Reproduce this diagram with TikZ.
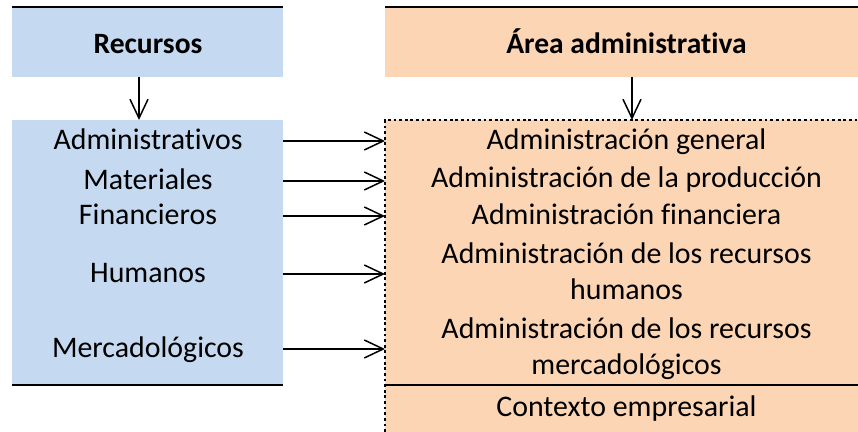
\documentclass[tikz,border=0pt]{standalone}
\usepackage{fontspec}
\setmainfont{Carlito}[Ligatures=NoCommon]
\usetikzlibrary{arrows.meta}
\definecolor{recblue}{RGB}{197,217,241}
\definecolor{areaorange}{RGB}{252,213,180}
\tikzset{
  panel/.style={inner sep=0pt, outer sep=0pt, anchor=north west},
  flow/.style={-{Straight Barb[length=0.38cm,width=0.36cm]}, line width=0.85pt},
  item/.style={font=\fontsize{17}{21}\selectfont, align=center, inner sep=0pt, anchor=base},
  title/.style={font=\fontsize{16.8}{21}\selectfont\bfseries, inner sep=0pt, anchor=base},
  rule/.style={line width=1.1pt},
  dots/.style={line width=1.6pt, dash pattern=on 1.6pt off 1.6pt}
}
\begin{document}
\begin{tikzpicture}
\useasboundingbox (0,0) rectangle (17.16,8.64);

% boxes
\node[panel, fill=recblue, minimum width=5.42cm, minimum height=1.40cm] (lhead) at (0.24,8.50) {};
\node[panel, fill=recblue, minimum width=5.42cm, minimum height=5.30cm] (lbody) at (0.24,6.24) {};
\node[panel, fill=areaorange, minimum width=9.46cm, minimum height=1.40cm] (rhead) at (7.70,8.50) {};
\node[panel, fill=areaorange, minimum width=9.46cm, minimum height=5.30cm] (rbody) at (7.70,6.24) {};
\node[panel, fill=areaorange, minimum width=9.46cm, minimum height=0.94cm] (ctx) at (7.70,0.94) {};

\draw[rule] (lhead.north west) -- (lhead.north east);
\draw[rule] (rhead.north west) -- (rhead.north east);
\draw[rule] (lbody.south west) -- (lbody.south east);
\draw[rule] (rbody.south west) -- (rbody.south east);
\draw[dots] (ctx.south west) -- (rbody.north west) -- (rbody.north east);

% titles
\node[title] (rtitle) at (2.96,7.56) {Recursos};
\node[title] (atitle) at (12.53,7.56) {Área administrativa};

% resources
\node[item] (adm) at (2.96,5.64) {Administrativos};
\node[item] (mat) at (2.96,4.84) {Materiales};
\node[item] (fin) at (2.96,4.14) {Financieros};
\node[item] (hum) at (2.96,2.98) {Humanos};
\node[item] (mer) at (2.96,1.48) {Mercadológicos};

% areas
\node[item] (agen) at (12.53,5.64) {Administración general};
\node[item] (apro) at (12.53,4.88) {Administración de la producción};
\node[item] (afin) at (12.53,4.14) {Administración financiera};
\node[item] (ahum) at (12.53,2.64) {Administración de los recursos\\humanos};
\node[item] (amer) at (12.53,1.14) {Administración de los recursos\\mercadológicos};
\node[item] (actx) at (12.53,0.30) {Contexto empresarial};

% arrows
\draw[flow] ([xshift=-0.17cm]lhead.south) -- ([xshift=-0.17cm]lbody.north);
\draw[flow] ([xshift=0.21cm]rhead.south) -- ([xshift=0.21cm]rbody.north);
\foreach \src in {adm,mat,fin,hum,mer}
  \draw[flow] ([yshift=0.18cm]lbody.east |- \src.base) -- ([yshift=0.18cm]rbody.west |- \src.base);
\end{tikzpicture}
\end{document}
